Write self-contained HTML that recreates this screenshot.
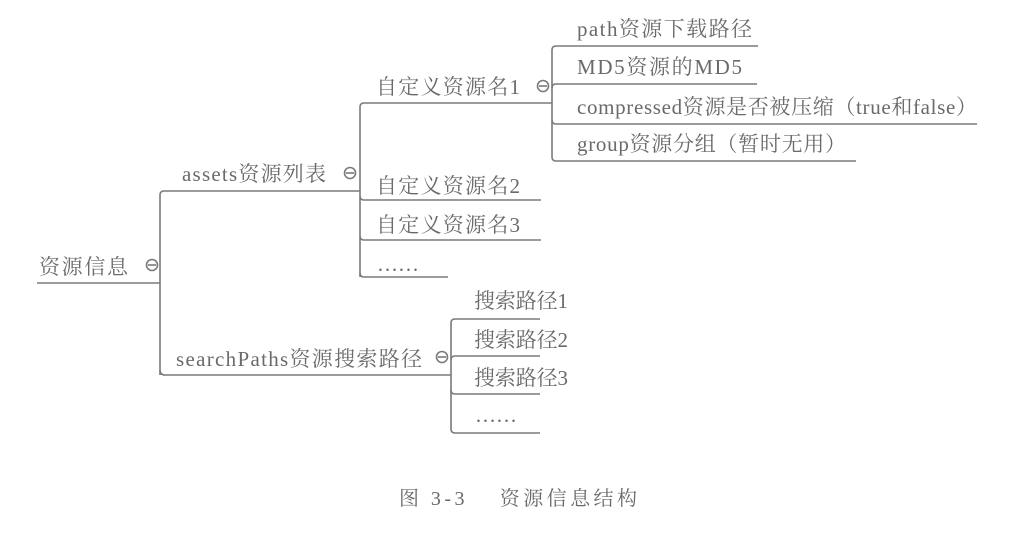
<!DOCTYPE html>
<html><head><meta charset="utf-8"><style>
html,body{margin:0;padding:0;background:#fff;}
svg text{font-family:"Liberation Serif","Noto Serif CJK SC",serif;fill:#6a6a6a;}
</style></head><body>
<svg width="1029" height="532" viewBox="0 0 1029 532" xmlns="http://www.w3.org/2000/svg">
<g fill="none" stroke="#7a7a7a" stroke-width="1.6">
<path d="M37 283 H160"/>
<path d="M160 375 V195 Q160 191 164 191 H360"/>
<path d="M160 370 Q160 375 165 375 H451"/>
<path d="M360 277 V107 Q360 103 364 103 H552"/>
<path d="M360 196 Q360 200 364 200 H541"/>
<path d="M360 236 Q360 240 364 240 H541"/>
<path d="M360 273 Q360 277 364 277 H448"/>
<path d="M552 157 V50 Q552 46 556 46 H758"/>
<path d="M552 88 Q552 84 556 84 H757"/>
<path d="M552 120 Q552 124 556 124 H977"/>
<path d="M552 157 Q552 161 556 161 H856"/>
<path d="M451 429 V323 Q451 319 455 319 H540"/>
<path d="M451 360 Q451 356 455 356 H540"/>
<path d="M451 390 Q451 394 455 394 H540"/>
<path d="M451 429 Q451 433 455 433 H540"/>
<circle cx="152" cy="265" r="5.5"/><path d="M148 265 H156"/>
<circle cx="350" cy="173" r="5.5"/><path d="M346 173 H354"/>
<circle cx="543" cy="86" r="5.5"/><path d="M539 86 H547"/>
<circle cx="442" cy="357" r="5.5"/><path d="M438 357 H446"/>
</g>
<g font-size="21">
<text x="39" y="274" textLength="89">资源信息</text>
<text x="182" y="181" textLength="144">assets资源列表</text>
<text x="376" y="94" textLength="144">自定义资源名1</text>
<text x="376" y="193" textLength="144">自定义资源名2</text>
<text x="376" y="232" textLength="144">自定义资源名3</text>
<text x="377" y="271">……</text>
<text x="577" y="36" textLength="175">path资源下载路径</text>
<text x="577" y="74" textLength="165">MD5资源的MD5</text>
<text x="577" y="114" textLength="400">compressed资源是否被压缩（true和false）</text>
<text x="577" y="151" textLength="269">group资源分组（暂时无用）</text>
<text x="176" y="366" textLength="246">searchPaths资源搜索路径</text>
<text x="474" y="308" textLength="94">搜索路径1</text>
<text x="474" y="347" textLength="94">搜索路径2</text>
<text x="474" y="385" textLength="94">搜索路径3</text>
<text x="475" y="422">……</text>
</g>
<text x="399" y="505" font-size="20" textLength="238">图 3-3　 资源信息结构</text>
</svg>
</body></html>
